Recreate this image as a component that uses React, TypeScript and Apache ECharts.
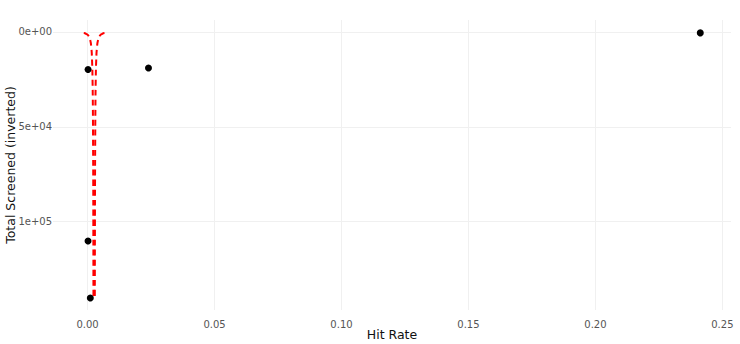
import React, { useEffect, useRef } from "react";
import * as echarts from "echarts";

// Observed points: [hit rate, total screened]
const pointRates = [0.2413, 0.0002, 0.024, 0.0002, 0.0011];
const pointScreened = [500, 19800, 18950, 110150, 140150];

// Funnel control limits
const funnelN = [600, 1000, 2000, 4000, 8000, 15000, 25000, 40000, 60000, 80000, 100000, 120000, 140000];
const funnelUpper = [0.00668, 0.00576, 0.00484, 0.00418, 0.00372, 0.00342, 0.00323, 0.0031, 0.00301, 0.00295, 0.00292, 0.00289, 0.00287];
const funnelLower = [-0.00148, -0.00056, 0.00036, 0.00102, 0.00148, 0.00178, 0.00197, 0.0021, 0.00219, 0.00225, 0.00228, 0.00231, 0.00233];

const xTicks = [0, 0.05, 0.1, 0.15, 0.2, 0.25];
const yTicks = [0, 50000, 100000];
const yTickLabels = ["0e+00", "5e+04", "1e+05"];

const FONT = "DejaVu Sans";

export default function App() {
  const ref = useRef<HTMLDivElement>(null);
  useEffect(() => {
    if (!ref.current) return;
    const chart = echarts.init(ref.current, null, { renderer: "svg" });
    const dashed = {
      type: "line",
      showSymbol: false,
      symbol: "none",
      smooth: true,
      lineStyle: { color: "#ff0000", width: 2, type: [6, 4] },
      z: 2,
    };
    chart.setOption({
      animation: false,
      grid: {
        left: 53,
        right: 9,
        top: 20,
        bottom: 34,
        containLabel: false,
        outerBoundsMode: "none",
      },
      xAxis: {
        type: "value",
        min: -0.0136,
        max: 0.2534,
        name: "Hit Rate",
        nameLocation: "middle",
        nameGap: 18,
        nameMoveOverlap: false,
        nameTextStyle: { fontFamily: FONT, fontSize: 12.5, color: "#111" },
        axisLine: { show: false },
        axisTick: { show: false, customValues: xTicks },
        axisLabel: {
          customValues: xTicks,
          formatter: (v: number) => v.toFixed(2),
          fontFamily: FONT,
          fontSize: 10,
          color: "#555",
          margin: 9,
        },
        splitLine: { show: true, lineStyle: { color: "#f0f0f0", width: 1 } },
      },
      yAxis: {
        type: "value",
        inverse: true,
        min: -6300,
        max: 146500,
        name: "Total Screened (inverted)",
        nameLocation: "middle",
        nameGap: 36,
        nameMoveOverlap: false,
        nameTextStyle: { fontFamily: FONT, fontSize: 12.5, color: "#111" },
        axisLine: { show: false },
        axisTick: { show: false, customValues: yTicks },
        axisLabel: {
          customValues: yTicks,
          formatter: (v: number) => yTickLabels[yTicks.indexOf(v)] ?? "",
          fontFamily: FONT,
          fontSize: 10,
          color: "#555",
          margin: 1,
        },
        splitLine: { show: true, lineStyle: { color: "#f0f0f0", width: 1 } },
      },
      series: [
        { ...dashed, data: funnelN.map((n, i) => [funnelLower[i], n]) },
        { ...dashed, data: funnelN.map((n, i) => [funnelUpper[i], n]) },
        {
          type: "scatter",
          symbolSize: 7,
          itemStyle: { color: "#000", opacity: 1 },
          data: pointRates.map((r, i) => [r, pointScreened[i]]),
          z: 3,
        },
      ],
    });
    return () => chart.dispose();
  }, []);
  return (
    <div
      ref={ref}
      style={{ position: "absolute", left: 0, top: 0, width: 740, height: 344 }}
    />
  );
}
